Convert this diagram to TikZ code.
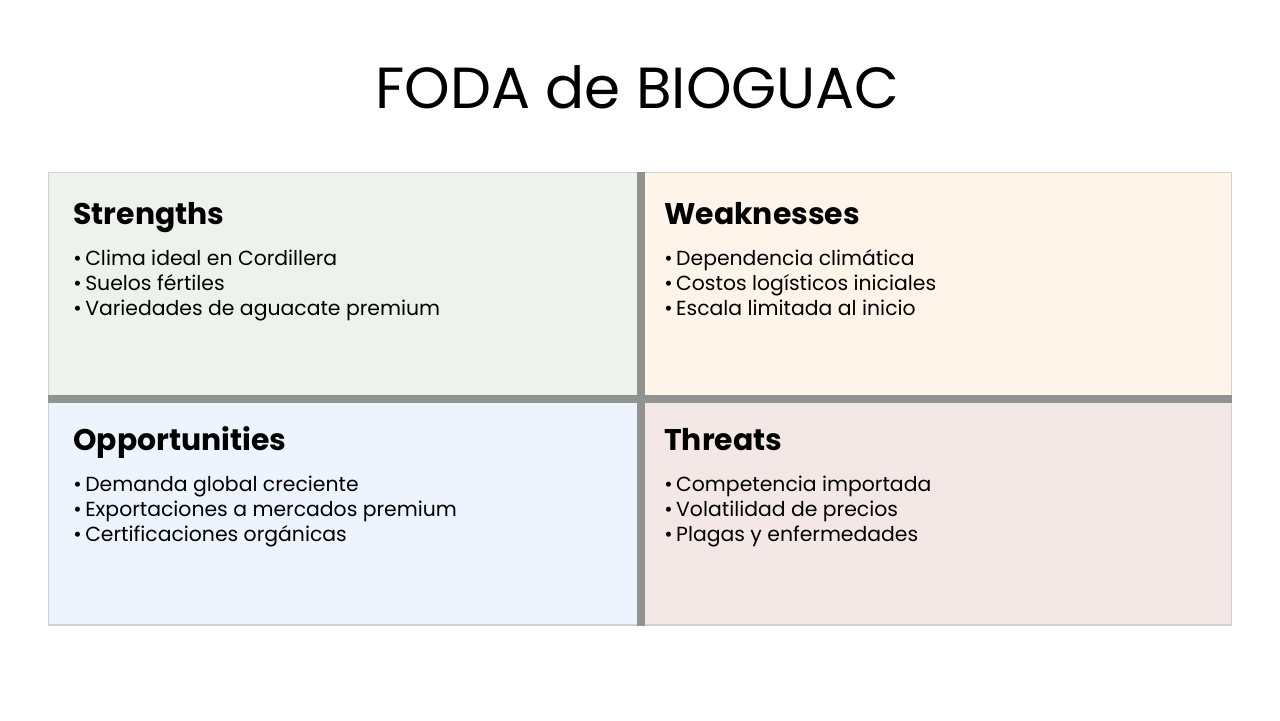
\documentclass[tikz,border=0pt]{standalone}
\usepackage{fontspec}
\setmainfont{Poppins}
\definecolor{fdStr}{HTML}{EDF3EC}
\definecolor{fdWeak}{HTML}{FFF4EA}
\definecolor{fdOpp}{HTML}{EDF4FE}
\definecolor{fdThr}{HTML}{F3E8E6}
\definecolor{fdLine}{HTML}{929292}
\usetikzlibrary{positioning}
\newcommand{\fdbul}{\textbullet\hspace{2pt}}

\begin{document}
\begin{tikzpicture}[
  cell/.style={draw=black!18, line width=0.6pt, minimum width=11.84cm, minimum height=4.51cm, inner sep=0pt},
  head/.style={anchor=base west, inner sep=0pt, font=\fontsize{17}{20}\selectfont\bfseries},
  items/.style={below=0.5cm of #1.base west, anchor=north west, inner sep=0pt, align=left,
    font=\fontsize{11.6}{14.2}\selectfont},
  divider/.style={line width=0.16cm, color=fdLine}
]
  \useasboundingbox[fill=white] (0,0) rectangle (25.6,14.4);
  \node[font=\fontsize{33}{38}\selectfont] (title) at (12.75,12.65) {FODA de BIOGUAC};

  \node[cell, fill=fdStr, anchor=south west] (str) at (0.96,6.42) {};
  \node[cell, fill=fdWeak, anchor=south east] (weak) at (24.64,6.42) {};
  \node[cell, fill=fdOpp, anchor=north west] (opp) at (0.96,6.42) {};
  \node[cell, fill=fdThr, anchor=north east] (thr) at (24.64,6.42) {};

  \draw[divider] (str.north east) -- (opp.south east);
  \draw[divider] (str.south west) -- (weak.south east);

  \node[head] (strh) at ([xshift=0.5cm,yshift=-1.04cm]str.north west) {Strengths};
  \node[items=strh] (stri) {\fdbul Clima ideal en Cordillera\\ \fdbul Suelos fértiles\\ \fdbul Variedades de aguacate premium};
  \node[head] (weakh) at ([xshift=0.5cm,yshift=-1.04cm]weak.north west) {Weaknesses};
  \node[items=weakh] (weaki) {\fdbul Dependencia climática\\ \fdbul Costos logísticos iniciales\\ \fdbul Escala limitada al inicio};
  \node[head] (opph) at ([xshift=0.5cm,yshift=-1.04cm]opp.north west) {Opportunities};
  \node[items=opph] (oppi) {\fdbul Demanda global creciente\\ \fdbul Exportaciones a mercados premium\\ \fdbul Certificaciones orgánicas};
  \node[head] (thrh) at ([xshift=0.5cm,yshift=-1.04cm]thr.north west) {Threats};
  \node[items=thrh] (thri) {\fdbul Competencia importada\\ \fdbul Volatilidad de precios\\ \fdbul Plagas y enfermedades};
\end{tikzpicture}
\end{document}
